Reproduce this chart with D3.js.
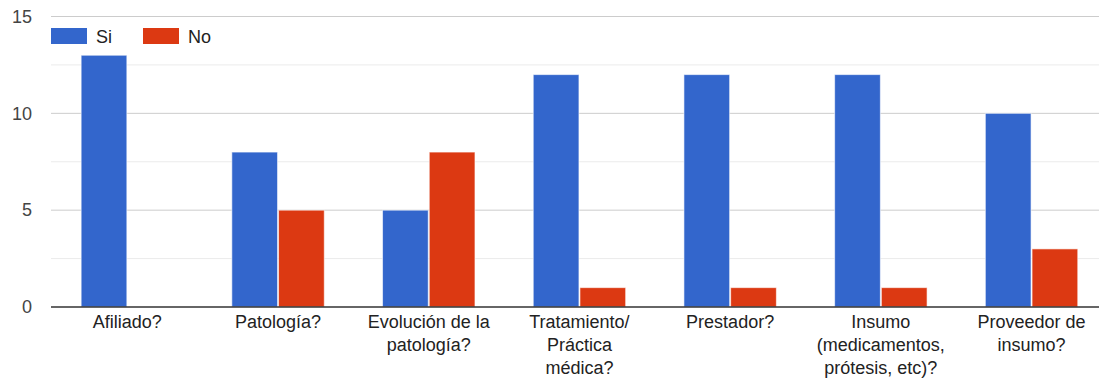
<!DOCTYPE html>
<html>
<head>
<meta charset="utf-8">
<script src="https://cdn.jsdelivr.net/npm/d3@7"></script>
<style>
  html, body { margin: 0; padding: 0; background: #fff; }
  svg { display: block; font-family: "Liberation Sans", Arial, sans-serif; }
</style>
</head>
<body>
<svg id="chart" width="1099" height="381"></svg>
<script>
// Survey answers per question
const categories = [
  ["Afiliado?"],
  ["Patología?"],
  ["Evolución de la", "patología?"],
  ["Tratamiento/", "Práctica", "médica?"],
  ["Prestador?"],
  ["Insumo", "(medicamentos,", "prótesis, etc)?"],
  ["Proveedor de", "insumo?"]
];
const seriesNames = ["Si", "No"];
const siValues = [13, 8, 5, 12, 12, 12, 10];
const noValues = [0, 5, 8, 1, 1, 1, 3];
const colors = ["#3366cc", "#dc3912"];
const majorTicks = [0, 5, 10, 15];
const minorTicks = [2.5, 7.5, 12.5];

const svg = d3.select("#chart");
const W = 1099, H = 381;
const plotLeft = 51;
const fontSize = 18;
const fontFamily = "Liberation Sans, Arial, sans-serif";

const y = d3.scaleLinear().domain([0, 15]).range([307, 16.5]);
const x0 = d3.scaleBand()
  .domain(d3.range(categories.length))
  .range([52, 52 + 150.7 * categories.length])
  .paddingInner(0.38).paddingOuter(0.19);
const x1 = d3.scaleBand().domain(seriesNames).range([0, x0.bandwidth()]).padding(0);

// Gridlines
svg.append("g").selectAll("line").data(minorTicks).join("line")
  .attr("x1", plotLeft).attr("x2", W)
  .attr("y1", d => y(d)).attr("y2", d => y(d))
  .attr("stroke", "#ebebeb").attr("stroke-width", 1);
svg.append("g").selectAll("line").data(majorTicks.filter(d => d > 0)).join("line")
  .attr("x1", plotLeft).attr("x2", W)
  .attr("y1", d => y(d)).attr("y2", d => y(d))
  .attr("stroke", "#cccccc").attr("stroke-width", 1);

// Y axis labels
const yAxis = d3.axisLeft(y).tickValues(majorTicks).tickSize(0).tickPadding(0);
const yg = svg.append("g").attr("transform", "translate(32,0)").call(yAxis);
yg.select(".domain").remove();
yg.selectAll("text").attr("fill", "#444").attr("font-size", fontSize)
  .attr("font-family", fontFamily);

// Bars
const rows = categories.map((c, i) => ({ i, vals: [siValues[i], noValues[i]] }));
const groups = svg.append("g").selectAll("g").data(rows).join("g")
  .attr("transform", d => `translate(${x0(d.i)},0)`);
groups.selectAll("rect")
  .data(d => d.vals.map((v, k) => ({ key: seriesNames[k], v, k })).filter(e => e.v > 0))
  .join("rect")
  .attr("x", d => x1(d.key) + 0.5)
  .attr("width", x1.bandwidth() - 1)
  .attr("y", d => y(d.v))
  .attr("height", d => y(0) - y(d.v))
  .attr("fill", d => colors[d.k])
  .attr("stroke", "#ffffff").attr("stroke-opacity", 0.6).attr("stroke-width", 1);

// Baseline
svg.append("line")
  .attr("x1", plotLeft).attr("x2", W)
  .attr("y1", y(0)).attr("y2", y(0))
  .attr("stroke", "#333").attr("stroke-width", 1.5);

// Category labels
const xl = svg.append("g");
categories.forEach((lines, i) => {
  const t = xl.append("text")
    .attr("x", x0(i) + x0.bandwidth() / 2)
    .attr("y", 328)
    .attr("text-anchor", "middle")
    .attr("font-size", fontSize)
    .attr("fill", "#222");
  lines.forEach((ln, j) => {
    t.append("tspan").attr("x", x0(i) + x0.bandwidth() / 2)
      .attr("dy", j === 0 ? 0 : 23).text(ln);
  });
});

// Legend
const legend = svg.append("g");
const legendX = [51, 143];
seriesNames.forEach((name, k) => {
  legend.append("rect")
    .attr("x", legendX[k]).attr("y", 28)
    .attr("width", 36).attr("height", 16)
    .attr("fill", colors[k]);
  legend.append("text")
    .attr("x", legendX[k] + 45).attr("y", 43)
    .attr("font-size", fontSize).attr("fill", "#222")
    .text(name);
});
</script>
</body>
</html>
